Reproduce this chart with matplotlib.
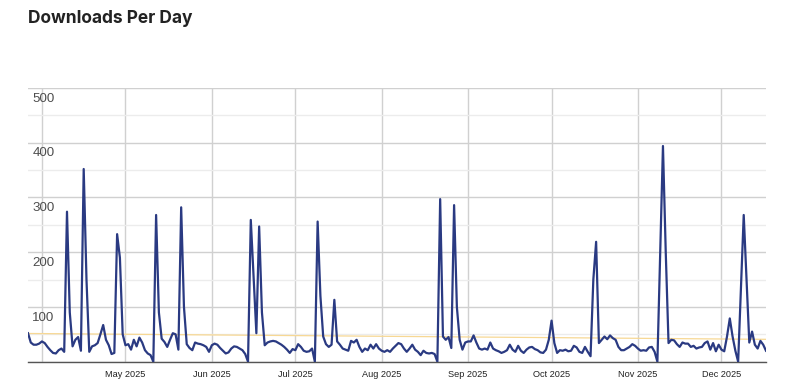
import numpy as np
import pandas as pd
import matplotlib
matplotlib.use("Agg")
import matplotlib.pyplot as plt

# daily downloads, 27 Mar 2025 .. 17 Dec 2025
start_date = "2025-03-27"
downloads = [
    52, 35, 31, 31, 33, 37, 34, 27, 21, 16,
    15, 21, 24, 18, 274, 90, 28, 40, 45, 20,
    352, 150, 18, 28, 30, 34, 50, 67, 40, 30,
    14, 16, 233, 190, 50, 30, 32, 22, 40, 28,
    44, 35, 21, 15, 12, 0, 268, 90, 42, 36,
    27, 40, 52, 50, 22, 282, 100, 32, 25, 21,
    35, 33, 32, 30, 27, 18, 30, 33, 31, 25,
    20, 15, 17, 24, 28, 27, 24, 21, 14, 0,
    259, 155, 52, 247, 90, 30, 35, 37, 38, 37,
    34, 31, 27, 22, 16, 23, 21, 32, 27, 20,
    18, 19, 24, 0, 256, 120, 46, 32, 27, 31,
    113, 37, 31, 24, 22, 20, 38, 35, 40, 27,
    18, 24, 21, 31, 24, 32, 24, 20, 18, 21,
    18, 24, 29, 34, 32, 24, 18, 24, 31, 22,
    18, 12, 20, 16, 15, 16, 14, 0, 297, 46,
    40, 45, 25, 286, 100, 40, 22, 35, 37, 37,
    48, 35, 24, 22, 24, 22, 35, 24, 21, 19,
    16, 18, 21, 31, 22, 18, 29, 20, 16, 22,
    26, 27, 23, 21, 17, 16, 22, 40, 75, 34,
    16, 21, 20, 22, 19, 20, 29, 26, 18, 16,
    27, 18, 10, 150, 219, 34, 40, 46, 41, 48,
    43, 40, 27, 21, 21, 24, 27, 32, 29, 24,
    20, 21, 20, 26, 27, 18, 0, 197, 394, 200,
    34, 40, 39, 32, 27, 35, 33, 33, 27, 29,
    24, 26, 27, 34, 37, 22, 34, 19, 31, 22,
    19, 46, 79, 46, 20, 0, 134, 268, 150, 35,
    55, 31, 24, 38, 31, 20,
]
y_ticks = [100, 200, 300, 400, 500]
month_ticks = ["2025-04-01", "2025-05-01", "2025-06-01", "2025-07-01", "2025-08-01",
               "2025-09-01", "2025-10-01", "2025-11-01", "2025-12-01"]
month_labels = ["", "May 2025", "Jun 2025", "Jul 2025", "Aug 2025",
                "Sep 2025", "Oct 2025", "Nov 2025", "Dec 2025"]

dates = pd.date_range(start_date, periods=len(downloads), freq="D")
values = np.array(downloads, dtype=float)

# linear trend line
idx = np.arange(len(values))
slope, icpt = np.polyfit(idx, values, 1)
trend = slope * idx + icpt

fig = plt.figure(figsize=(8, 3.9), dpi=100)
ax = fig.add_axes([0.035, 0.0726, 0.9225, 0.7018])

ax.plot(dates, values, color="#2a3a82", lw=1.6, zorder=4, solid_joinstyle="round")
ax.plot(dates, trend, color="#f7d894", lw=0.9, zorder=3)

ax.set_xlim(dates[0], dates[-1])
ax.set_ylim(0, 500)

ax.set_yticks(np.arange(0, 501, 100))
ax.set_yticks(np.arange(50, 500, 100), minor=True)
ax.grid(axis="y", which="major", color="#d0d0d0", lw=1)
ax.grid(axis="y", which="minor", color="#ececec", lw=1)
ticks = pd.to_datetime(month_ticks)
ax.set_xticks(ticks)
ax.set_xticklabels(month_labels)
ax.grid(axis="x", color="#d0d0d0", lw=1)
ax.set_axisbelow(True)

ax.tick_params(axis="y", which="both", left=False, labelleft=False)
ax.tick_params(axis="x", length=0, pad=6, labelsize=6.6, colors="#222222")
for lab in ax.get_xticklabels():
    lab.set_family("Liberation Sans")

for s in ["top", "left", "right"]:
    ax.spines[s].set_visible(False)
ax.spines["bottom"].set_color("#555555")
ax.spines["bottom"].set_linewidth(1)

# y labels drawn inside, just below each gridline
trans = ax.get_yaxis_transform()
for v in y_ticks:
    ax.text(0.006, v - 19.5, str(v), transform=trans, ha="left", va="center",
            fontsize=9.6, color="#4d4d4d", family="Liberation Sans")

fig.text(0.035, 0.952, "Downloads Per Day", ha="left", va="center",
         fontsize=12.5, fontweight="bold", color="#222222", family="Inter")

fig.savefig("out.png", dpi=100)
